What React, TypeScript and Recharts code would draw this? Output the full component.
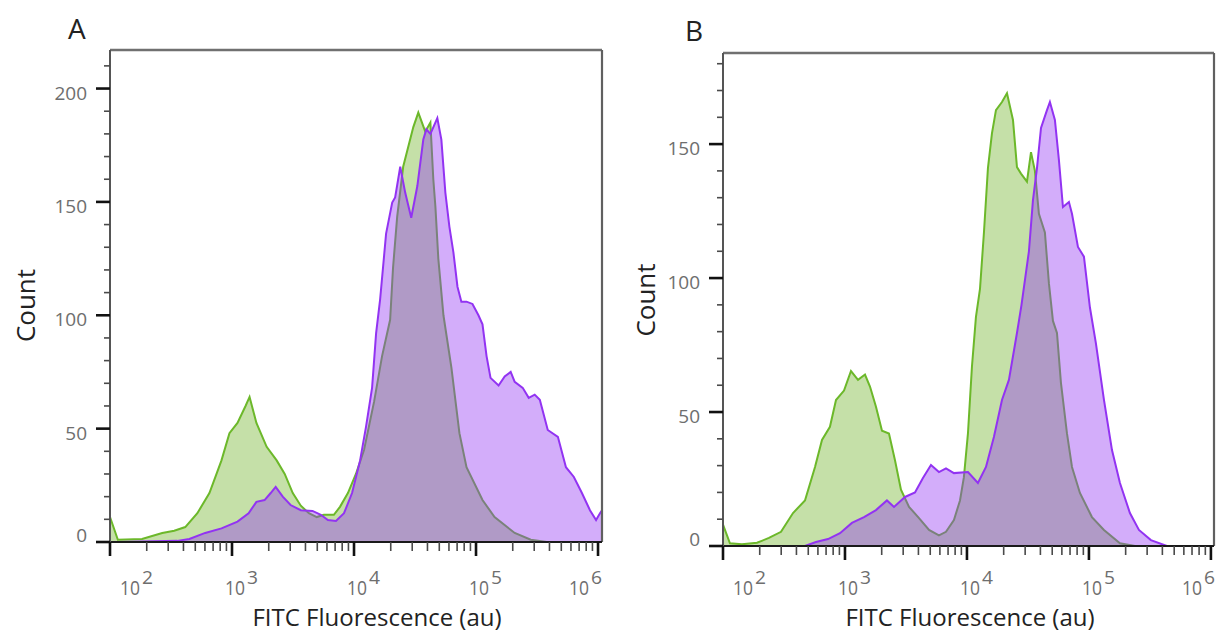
import React from 'react';
import { AreaChart, Area, XAxis, YAxis, ReferenceLine } from 'recharts';

// ---------- tick labels ----------
const xMajorTicks = [100, 1000, 10000, 100000, 1000000];
const xTickExponents = ['2', '3', '4', '5', '6'];
const xMinorTicks = [
  200, 300, 400, 500, 600, 700, 800, 900,
  2000, 3000, 4000, 5000, 6000, 7000, 8000, 9000,
  20000, 30000, 40000, 50000, 60000, 70000, 80000, 90000,
  200000, 300000, 400000, 500000, 600000, 700000, 800000, 900000,
];
const yMajorTicksA = [0, 50, 100, 150, 200];
const yMinorTicksA = [10, 20, 30, 40, 60, 70, 80, 90, 110, 120, 130, 140, 160, 170, 180, 190, 210];
const yMajorTicksB = [0, 50, 100, 150];
const yMinorTicksB = [10, 20, 30, 40, 60, 70, 80, 90, 110, 120, 130, 140, 160, 170, 180];

const panelLetters = ['A', 'B'];
const xAxisTitle = 'FITC Fluorescence (au)';
const yAxisTitle = 'Count';

// ---------- series: [fluorescence (au), count] ----------
const greenA: [number, number][] = [
  [100, 11], [116, 1], [183, 1.3], [268, 4], [336, 5], [414, 6.6], [520, 12.7], [653, 21.6],
  [820, 36], [953, 48], [1109, 52.5], [1291, 60], [1393, 64], [1585, 52.5], [1923, 42],
  [2323, 36], [2704, 30], [3148, 21.6], [3664, 16], [4266, 12.7], [4955, 11], [5662, 12],
  [6839, 12], [7674, 15.5], [8913, 21.6], [10370, 30], [12080, 40.6], [14620, 62],
  [16980, 82], [19770, 98], [20890, 121], [22590, 143.5], [25290, 165.5], [30620, 183],
  [33650, 189.4], [38370, 181], [42270, 185], [44670, 160], [46450, 148], [49090, 125],
  [54080, 100], [62810, 77], [73110, 48], [83560, 33], [113000, 18.5], [141900, 11],
  [207500, 4], [281200, 1], [380000, 0], [1078000, 0],
];
const purpleA: [number, number][] = [
  [100, 0], [116, 0], [356, 0.5], [447, 1.3], [603, 4], [820, 6], [1109, 9], [1368, 12.7],
  [1585, 17.7], [1849, 18.5], [2075, 21.6], [2280, 24.3], [2606, 20], [3020, 16.3],
  [3664, 14], [4571, 13.7], [5346, 12], [6109, 9.7], [7112, 9.3], [8279, 12.7], [9638, 21.6],
  [11220, 36], [12560, 51], [14060, 68], [15170, 92], [16370, 107], [18320, 136],
  [20560, 149.7], [21730, 152], [23930, 165.5], [26300, 154], [29440, 143], [33040, 157],
  [36980, 177.5], [39170, 182], [42270, 180], [48190, 187], [52000, 177.5], [56100, 154],
  [60530, 139], [65310, 127.6], [70470, 112.6], [75860, 106], [83560, 106], [93540, 105],
  [104700, 100], [113000, 96], [122000, 82], [131500, 72.4], [153100, 69], [171800, 73],
  [192300, 75], [207500, 70.6], [241500, 68], [270400, 63.6], [302700, 65], [333400, 62.7],
  [387300, 49.4], [468800, 46.4], [545800, 33], [633900, 28.7], [737900, 21.6],
  [859000, 14], [963800, 9.7], [1038000, 12.7], [1078000, 14],
];
const greenB: [number, number][] = [
  [100, 8], [114, 1], [143, 0.7], [190, 1.2], [238, 3], [299, 5.3], [375, 12.3], [470, 17],
  [568, 29.5], [648, 39.6], [753, 44.5], [844, 54.5], [982, 58], [1120, 65.3], [1279, 62],
  [1459, 64], [1603, 59.5], [1795, 52], [2011, 43], [2294, 42], [2570, 32], [2877, 21],
  [3350, 14.6], [4046, 10.4], [4887, 6], [5894, 4], [6730, 5.3], [7820, 9.7], [8770, 17],
  [9440, 25.7], [10190, 42], [10990, 67], [11850, 85.5], [12790, 96], [13780, 117],
  [14860, 141], [16030, 154], [17290, 162.7], [19370, 165.7], [21290, 169], [23840, 159],
  [25700, 141.4], [27730, 139], [31050, 136], [33500, 147], [36060, 140], [38900, 124],
  [43550, 117], [46990, 98], [50700, 84], [54700, 79.5], [58930, 61], [66070, 42],
  [72610, 29.5], [84360, 19.8], [105800, 10.8], [132800, 6], [179600, 1], [238400, 0],
  [1060000, 0],
];
const purpleB: [number, number][] = [
  [100, 0], [470, 0], [578, 1.5], [726, 2.6], [910, 4.8], [1140, 8.6], [1432, 10.8],
  [1795, 13.4], [2208, 17], [2523, 14.6], [3105, 18.3], [3750, 20], [4357, 25.4],
  [5070, 30.2], [5894, 27.6], [6730, 29], [7820, 27.2], [10190, 27.6], [12300, 23.5],
  [14320, 29.5], [16630, 40.7], [19370, 54.5], [22080, 62], [25700, 79.5], [28000, 90],
  [32210, 110], [34750, 129], [37500, 141], [40460, 156], [45290, 162.7], [47860, 165.7],
  [52600, 159], [56750, 144], [61230, 126.5], [68550, 128.4], [72610, 124], [81280, 111.6],
  [90990, 108], [101900, 89], [114000, 75.7], [132800, 54.5], [154500, 35.8],
  [179600, 23.5], [216800, 12.3], [257000, 6], [322100, 2.2], [435500, 0], [1060000, 0],
];

// ---------- styling ----------
const FONT = "'Open Sans', 'DejaVu Sans', sans-serif";
const GREEN_STROKE = '#6cb82a';
const GREEN_FILL = '#c5e0a8';
const PURPLE = '#9233f2';
const TICK_TEXT = '#6e6e6e';

const allXTicks = [...xMajorTicks, ...xMinorTicks].sort((a, b) => a - b);
const toRows = (pts: [number, number][]) => pts.map(([x, count]) => ({ x, count }));

const makeXTick = (labelDy: number) => (props: any) => {
  const { x, y, payload } = props;
  const v = payload.value;
  const idx = xMajorTicks.indexOf(v);
  if (idx < 0) {
    return <line x1={x} x2={x} y1={y} y2={y + 9} stroke="#4a4a4a" strokeWidth={1.6} />;
  }
  const dx = idx === 0 ? 20 : idx === xMajorTicks.length - 1 ? -19 : 3;
  return (
    <g>
      <line x1={x} x2={x} y1={y} y2={y + 14} stroke="#111" strokeWidth={2.6} />
      <text x={x + dx} y={y + labelDy} textAnchor="middle" fontSize={20} fill={TICK_TEXT}
        fontFamily={FONT} textLength={20} lengthAdjust="spacingAndGlyphs">10</text>
      <text x={x + dx + 12} y={y + labelDy - 11} fontSize={18} fill={TICK_TEXT}
        fontFamily={FONT} textLength={11} lengthAdjust="spacingAndGlyphs">{xTickExponents[idx]}</text>
    </g>
  );
};

const makeYTick = (majors: number[]) => (props: any) => {
  const { x, y, payload } = props;
  const v = payload.value;
  if (!majors.includes(v)) {
    return <line x1={x - 6} x2={x} y1={y} y2={y} stroke="#4a4a4a" strokeWidth={1.6} />;
  }
  return (
    <g>
      <line x1={x - 14} x2={x} y1={y} y2={y} stroke="#111" strokeWidth={2.6} />
      <text x={x - 23} y={v === 0 ? y : y + 11} textAnchor="end" fontSize={19}
        fill={TICK_TEXT} fontFamily={FONT}>{v}</text>
    </g>
  );
};

interface PanelProps {
  green: [number, number][];
  purple: [number, number][];
  xMax: number;
  yMax: number;
  yMajor: number[];
  yMinor: number[];
  width: number;
  margin: { top: number; right: number; bottom: number; left: number };
  xAxisHeight: number;
  tickLabelDy: number;
  xLabelDx: number;
  xLabelDy: number;
  yLabelDx: number;
  yLabelDy: number;
}

function Panel(p: PanelProps) {
  const yTicks = [...p.yMajor, ...p.yMinor].sort((a, b) => a - b);
  const xLabel = (lp: any) => {
    const vb = lp.viewBox;
    return (
      <text x={vb.x + vb.width / 2 + p.xLabelDx} y={vb.y + p.xLabelDy} textAnchor="middle"
        fontSize={24} fill="#222" fontFamily={FONT}>{xAxisTitle}</text>
    );
  };
  const yLabel = (lp: any) => {
    const vb = lp.viewBox;
    const cx = vb.x + vb.width - p.yLabelDx;
    const cy = vb.y + vb.height / 2 + p.yLabelDy;
    return (
      <text x={cx} y={cy} transform={`rotate(-90, ${cx}, ${cy})`} textAnchor="middle"
        fontSize={26} fill="#222" fontFamily={FONT}>{yAxisTitle}</text>
    );
  };
  return (
    <AreaChart width={p.width} height={633} margin={p.margin}>
      <XAxis dataKey="x" type="number" scale="log" domain={[100, p.xMax]} allowDataOverflow
        ticks={allXTicks} interval={0} tickLine={false} tickSize={0} tickMargin={0}
        height={p.xAxisHeight} axisLine={{ stroke: '#1a1a1a', strokeWidth: 2.2 }}
        tick={makeXTick(p.tickLabelDy)} label={xLabel} />
      <YAxis type="number" domain={[0, p.yMax]} allowDataOverflow ticks={yTicks} interval={0}
        tickLine={false} tickSize={0} tickMargin={0} width={60}
        axisLine={{ stroke: '#555', strokeWidth: 2 }} tick={makeYTick(p.yMajor)} label={yLabel} />
      <Area data={toRows(p.green)} dataKey="count" type="linear" stroke={GREEN_STROKE}
        strokeWidth={2} fill={GREEN_FILL} fillOpacity={1} dot={false} activeDot={false}
        isAnimationActive={false} />
      <Area data={toRows(p.purple)} dataKey="count" type="linear" stroke={PURPLE}
        strokeWidth={2} fill={PURPLE} fillOpacity={0.4} dot={false} activeDot={false}
        isAnimationActive={false} />
      <ReferenceLine y={p.yMax} stroke="#707070" strokeWidth={2.5} ifOverflow="visible" />
      <ReferenceLine x={p.xMax} stroke="#606060" strokeWidth={2.2} ifOverflow="visible" />
    </AreaChart>
  );
}

export default function App() {
  return (
    <div style={{ position: 'relative', width: 1217, height: 633, background: '#fff', overflow: 'hidden' }}>
      <style>{`body{margin:0;background:#fff}`}</style>
      <div style={{ position: 'absolute', left: 0, top: 0 }}>
        <Panel green={greenA} purple={purpleA} xMax={1078000} yMax={217}
          yMajor={yMajorTicksA} yMinor={yMinorTicksA} width={612}
          margin={{ top: 50, right: 10, bottom: 1, left: 50 }} xAxisHeight={90} tickLabelDy={53}
          xLabelDx={21} xLabelDy={84} yLabelDx={75} yLabelDy={9.5} />
      </div>
      <div style={{ position: 'absolute', left: 612, top: 0 }}>
        <Panel green={greenB} purple={purpleB} xMax={1060000} yMax={184}
          yMajor={yMajorTicksB} yMinor={yMinorTicksB} width={605}
          margin={{ top: 53, right: 3, bottom: 2, left: 51 }} xAxisHeight={85} tickLabelDy={49}
          xLabelDx={1.5} xLabelDy={80} yLabelDx={68} yLabelDy={0.5} />
      </div>
      <svg width={1217} height={633} style={{ position: 'absolute', left: 0, top: 0, pointerEvents: 'none' }}>
        <text x={68} y={38.5} fontSize={28} fill="#222" fontFamily={FONT}>{panelLetters[0]}</text>
        <text x={685} y={41} fontSize={28} fill="#222" fontFamily={FONT}>{panelLetters[1]}</text>
      </svg>
    </div>
  );
}
